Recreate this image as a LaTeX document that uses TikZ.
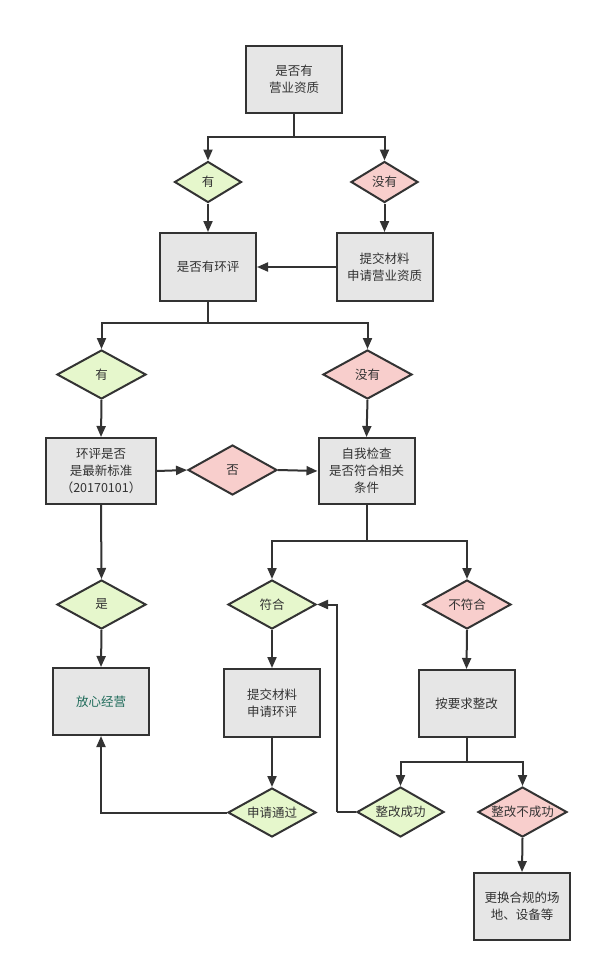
\documentclass[tikz,border=0pt]{standalone}
\usepackage{fontspec}
\newfontfamily\cjk{Noto Sans CJK SC}
\usetikzlibrary{arrows.meta,shapes.geometric}
\definecolor{boxfill}{HTML}{E6E6E6}
\definecolor{linec}{HTML}{333333}
\definecolor{greenfill}{HTML}{E6F7CC}
\definecolor{pinkfill}{HTML}{F8CECC}
\definecolor{txt}{HTML}{333333}
\definecolor{okteal}{HTML}{1F6B5A}
\tikzset{
  box/.style={draw=linec, line width=2pt, fill=boxfill, minimum width=96pt, minimum height=67pt, inner sep=0pt, align=center, text=txt, font=\cjk\fontsize{12.5}{17}\selectfont},
  dia/.style={draw=linec, line width=2pt, diamond, inner sep=0pt, text=txt, font=\cjk\fontsize{12.5}{15}\selectfont},
  gdia/.style={dia, fill=greenfill},
  pdia/.style={dia, fill=pinkfill},
  conn/.style={draw=linec, line width=2pt},
  arr/.style={conn, -{Triangle[length=11pt,width=9pt]}},
}
\begin{document}
\begin{tikzpicture}[x=1pt,y=-1pt]
\useasboundingbox[fill=white] (0,0) rectangle (604,971);
% boxes
\node[box] (q1) at (294,79.5) {是否有\\营业资质};
\node[box, minimum height=68pt] (q2) at (208,267) {是否有环评};
\node[box, minimum height=68pt] (s1) at (384.5,267) {提交材料\\申请营业资质};
\node[box, minimum width=110pt, minimum height=66pt] (q3) at (101,471) {环评是否\\是最新标准\\（20170101）};
\node[box, minimum height=66pt] (chk) at (366.5,471) {自我检查\\是否符合相关\\条件};
\node[box, text=okteal] (ok) at (101,701.5) {放心经营};
\node[box, minimum height=68pt] (s2) at (272,703) {提交材料\\申请环评};
\node[box, minimum height=67pt] (fix) at (466.5,703.5) {按要求整改};
\node[box] (chg) at (522,906.5) {更换合规的场\\地、设备等};
% diamonds
\path (208,182) node[gdia, minimum width=67pt, minimum height=41pt, shape aspect=1.63] (y1) {有};
\path (384.5,182) node[pdia, minimum width=67pt, minimum height=41pt, shape aspect=1.63] (n1) {没有};
\path (101.5,374.5) node[gdia, minimum width=89pt, minimum height=49pt, shape aspect=1.82] (y2) {有};
\path (367.5,374.5) node[pdia, minimum width=89pt, minimum height=49pt, shape aspect=1.82] (n2) {没有};
\path (232.5,470) node[pdia, minimum width=89pt, minimum height=50pt, shape aspect=1.78] (no) {否};
\path (101.5,604.5) node[gdia, minimum width=89pt, minimum height=49pt, shape aspect=1.82] (yes) {是};
\path (272,604.5) node[gdia, minimum width=88pt, minimum height=49pt, shape aspect=1.8] (fh) {符合};
\path (467,604.5) node[pdia, minimum width=88pt, minimum height=49pt, shape aspect=1.8] (bfh) {不符合};
\path (272,812.5) node[gdia, minimum width=88pt, minimum height=49pt, shape aspect=1.8] (pass) {申请通过};
\path (400.5,812) node[gdia, minimum width=87pt, minimum height=50pt, shape aspect=1.74] (succ) {整改成功};
\path (522.5,812) node[pdia, minimum width=89pt, minimum height=50pt, shape aspect=1.78] (fail) {整改不成功};
% branch points
\coordinate (b1) at (294,137);
\coordinate (b2) at (208,323);
\coordinate (b3) at (366.5,541);
\coordinate (b4) at (466.5,762);
\coordinate (l1) at (337,812);
% connectors
\draw[conn] (q1.south) -- (b1);
\draw[arr] (b1) -| (y1.north);
\draw[arr] (b1) -| (n1.north);
\draw[arr] (y1.south) -- (q2.north);
\draw[arr] (n1.south) -- (s1.north);
\draw[arr] (s1.west) -- (q2.east);
\draw[conn] (q2.south) -- (b2);
\draw[arr] (b2) -| (y2.north);
\draw[arr] (b2) -| (n2.north);
\draw[arr] (y2.south) -- (q3.north);
\draw[arr] (n2.south) -- (chk.north);
\draw[arr] (q3.east) -- (no.west);
\draw[arr] (no.east) -- (chk.west);
\draw[arr] (q3.south) -- (yes.north);
\draw[arr] (yes.south) -- (ok.north);
\draw[conn] (chk.south) -- (b3);
\draw[arr] (b3) -| (fh.north);
\draw[arr] (b3) -| (bfh.north);
\draw[arr] (fh.south) -- (s2.north);
\draw[arr] (s2.south) -- (pass.north);
\draw[arr] (pass.west) -| (ok.south);
\draw[arr] (bfh.south) -- (fix.north);
\draw[conn] (fix.south) -- (b4);
\draw[arr] (b4) -| (succ.north);
\draw[arr] (b4) -| (fail.north);
\draw[arr] (fail.south) -- (chg.north);
\draw[conn] (succ.west) -- (l1);
\draw[arr] (l1) |- (fh.east);
\end{tikzpicture}
\end{document}
